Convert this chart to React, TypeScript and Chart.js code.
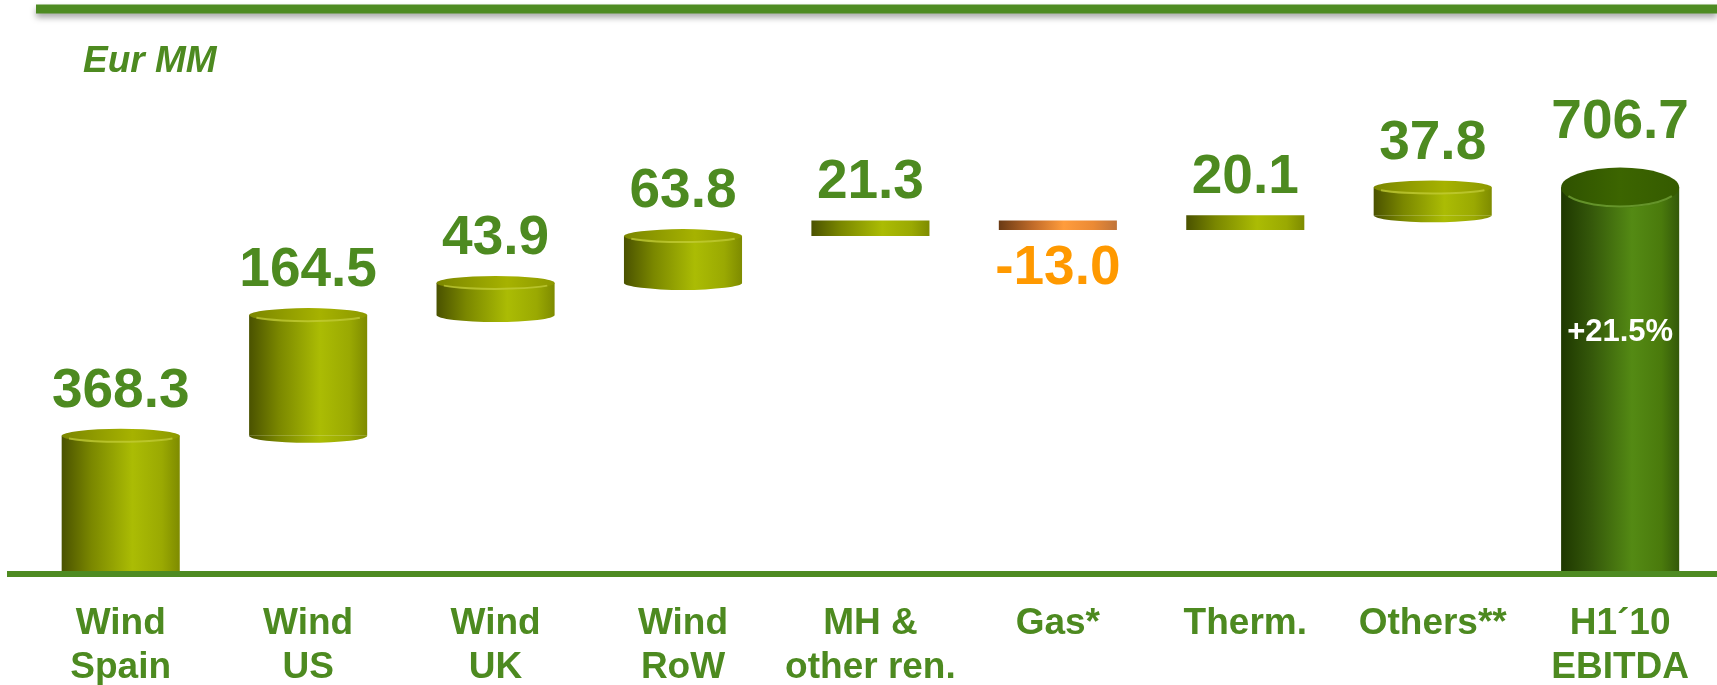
import React, { useEffect, useRef } from "react";
import { Chart, registerables } from "chart.js";

Chart.register(...registerables);

// ---- data ----
const categories: string[][] = [
  ["Wind", "Spain"],
  ["Wind", "US"],
  ["Wind", "UK"],
  ["Wind", "RoW"],
  ["MH &", "other ren."],
  ["Gas*"],
  ["Therm."],
  ["Others**"],
  ["H1´10", "EBITDA"],
];
const startValue = 368.3;
const stepValues = [164.5, 43.9, 63.8, 21.3, -13.0, 20.1, 37.8];
const totalValue = 706.7;
const growthLabel = "+21.5%";
const unitLabel = "Eur MM";

// floating ranges built from the values
const shownValues: number[] = [startValue, ...stepValues, totalValue];
const ranges: [number, number][] = [];
{
  let cum = startValue;
  ranges.push([0, startValue]);
  for (const s of stepValues) {
    ranges.push([cum, cum + s]);
    cum += s;
  }
  ranges.push([0, totalValue]);
}

const FONT = '"Liberation Sans", Arial, Helvetica, sans-serif';
const GREEN = "#4d8a20";
const ORANGE = "#ff9900";
const LAST = shownValues.length - 1;

type Kind = "pos" | "neg" | "total";
const kindOf = (i: number): Kind =>
  i === LAST ? "total" : shownValues[i] < 0 ? "neg" : "pos";

function bodyGradient(ctx: CanvasRenderingContext2D, left: number, right: number, kind: Kind) {
  const g = ctx.createLinearGradient(left, 0, right, 0);
  const stops: [number, string][] =
    kind === "total"
      ? [[0, "#1e3800"], [0.25, "#34570a"], [0.6, "#548a14"], [0.85, "#4a7a0c"], [1, "#33590a"]]
      : kind === "neg"
      ? [[0, "#6a3a14"], [0.3, "#c46d2a"], [0.55, "#ff9c3c"], [0.8, "#eb8a35"], [1, "#c0743a"]]
      : [[0, "#4a5200"], [0.25, "#7a8700"], [0.6, "#abbc04"], [0.85, "#9aa902"], [1, "#7e8b00"]];
  stops.forEach(([o, c]) => g.addColorStop(o, c));
  return g;
}

function capGradient(ctx: CanvasRenderingContext2D, left: number, right: number, kind: Kind) {
  const g = ctx.createLinearGradient(left, 0, right, 0);
  const stops: [number, string][] =
    kind === "total"
      ? [[0, "#2f5200"], [0.5, "#3c6500"], [1, "#355b00"]]
      : [[0, "#7b8600"], [0.6, "#a6b200"], [1, "#8c9800"]];
  stops.forEach(([o, c]) => g.addColorStop(o, c));
  return g;
}

const cylinderPlugin = {
  id: "cylinders",
  beforeDatasetsDraw(chart: any) {
    const ctx = chart.ctx as CanvasRenderingContext2D;
    const meta = chart.getDatasetMeta(0);
    meta.data.forEach((el: any, i: number) => {
      const p = el.getProps(["x", "width"], true);
      const g = bodyGradient(ctx, p.x - p.width / 2, p.x + p.width / 2, kindOf(i));
      el.options = Object.assign({}, el.options, { backgroundColor: g });
    });
  },
  afterDatasetsDraw(chart: any) {
    const ctx = chart.ctx as CanvasRenderingContext2D;
    const area = chart.chartArea;
    const meta = chart.getDatasetMeta(0);
    meta.data.forEach((el: any, i: number) => {
      const { x, y, base, width } = el.getProps(["x", "y", "base", "width"], true);
      const kind = kindOf(i);
      const top = Math.min(y, base);
      let bottom = Math.max(y, base);
      const anchored = bottom >= area.bottom;
      if (anchored) bottom = area.bottom;
      const h = bottom - top;
      const rx = width / 2;
      const ry = kind === "total" ? 20 : 7;
      const left = x - rx;
      const right = x + rx;
      let visualTop = top;
      ctx.save();
      if (h > 20) {
        if (!anchored) {
          ctx.beginPath();
          ctx.ellipse(x, bottom, rx, ry, 0, 0, Math.PI);
          ctx.fillStyle = bodyGradient(ctx, left, right, kind);
          ctx.fill();
        }
        ctx.beginPath();
        ctx.ellipse(x, top, rx, ry, 0, 0, Math.PI * 2);
        ctx.fillStyle = capGradient(ctx, left, right, kind);
        ctx.fill();
        ctx.beginPath();
        ctx.ellipse(x, top, rx - 1, ry - 1, 0, 0.15 * Math.PI, 0.85 * Math.PI);
        ctx.strokeStyle = kind === "total" ? "rgba(120,170,60,0.7)" : "rgba(205,215,70,0.6)";
        ctx.lineWidth = 2;
        ctx.stroke();
        visualTop = top - ry;
      }
      // value label
      const v = shownValues[i];
      ctx.font = `bold 55px ${FONT}`;
      ctx.textAlign = "center";
      ctx.textBaseline = "alphabetic";
      if (v < 0) {
        ctx.fillStyle = ORANGE;
        ctx.fillText(v.toFixed(1), x, bottom + 54);
      } else {
        ctx.fillStyle = GREEN;
        ctx.fillText(v.toFixed(1), x, visualTop - (kind === "total" ? 30 : 22));
      }
      if (kind === "total") {
        ctx.font = `bold 31px ${FONT}`;
        ctx.fillStyle = "#ffffff";
        ctx.textBaseline = "middle";
        ctx.fillText(growthLabel, x, top + 0.375 * (bottom - top));
      }
      ctx.restore();
    });
  },
  afterDraw(chart: any) {
    const ctx = chart.ctx as CanvasRenderingContext2D;
    const area = chart.chartArea;
    ctx.save();
    // top rule with shadow
    ctx.shadowColor = "rgba(0,0,0,0.35)";
    ctx.shadowBlur = 6;
    ctx.shadowOffsetY = 4;
    ctx.strokeStyle = "#4e8b22";
    ctx.lineWidth = 9;
    ctx.beginPath();
    ctx.moveTo(36, 9);
    ctx.lineTo(chart.width, 9);
    ctx.stroke();
    ctx.restore();
    ctx.save();
    // baseline
    ctx.strokeStyle = "#4e8b22";
    ctx.lineWidth = 6;
    ctx.beginPath();
    ctx.moveTo(7, area.bottom);
    ctx.lineTo(chart.width, area.bottom);
    ctx.stroke();
    // unit label
    ctx.font = `italic bold 37px ${FONT}`;
    ctx.fillStyle = GREEN;
    ctx.textAlign = "left";
    ctx.textBaseline = "alphabetic";
    ctx.fillText(unitLabel, 83, 72);
    ctx.restore();
  },
};

export default function App() {
  const ref = useRef<HTMLCanvasElement>(null);
  useEffect(() => {
    if (!ref.current) return;
    const chart = new Chart(ref.current, {
      type: "bar",
      data: {
        labels: categories as any,
        datasets: [
          {
            data: ranges as any,
            backgroundColor: "#9aa902",
            borderWidth: 0,
            barPercentage: 0.63,
            categoryPercentage: 1,
            clip: 0 as any,
          },
        ],
      },
      options: {
        animation: false,
        responsive: false,
        devicePixelRatio: 1,
        layout: { padding: { left: 27, right: 0, top: 20, bottom: 0 } },
        plugins: {
          legend: { display: false },
          tooltip: { enabled: false },
          title: { display: false },
        },
        scales: {
          x: {
            type: "category",
            offset: true,
            grid: { display: false, drawTicks: false },
            border: { display: false },
            ticks: {
              autoSkip: false,
              maxRotation: 0,
              minRotation: 0,
              padding: 28,
              color: GREEN,
              font: { family: FONT, size: 37, weight: "bold", lineHeight: 44 / 37 },
            },
            afterFit: (scale: any) => {
              scale.height = 111;
            },
          },
          y: {
            display: false,
            min: 180,
            max: 935,
          },
        },
      } as any,
      plugins: [cylinderPlugin],
    });
    return () => chart.destroy();
  }, []);
  return (
    <div
      style={{
        position: "absolute",
        left: 0,
        top: 0,
        width: 1717,
        height: 685,
        background: "#ffffff",
      }}
    >
      <canvas ref={ref} width={1717} height={685} style={{ display: "block" }} />
    </div>
  );
}
